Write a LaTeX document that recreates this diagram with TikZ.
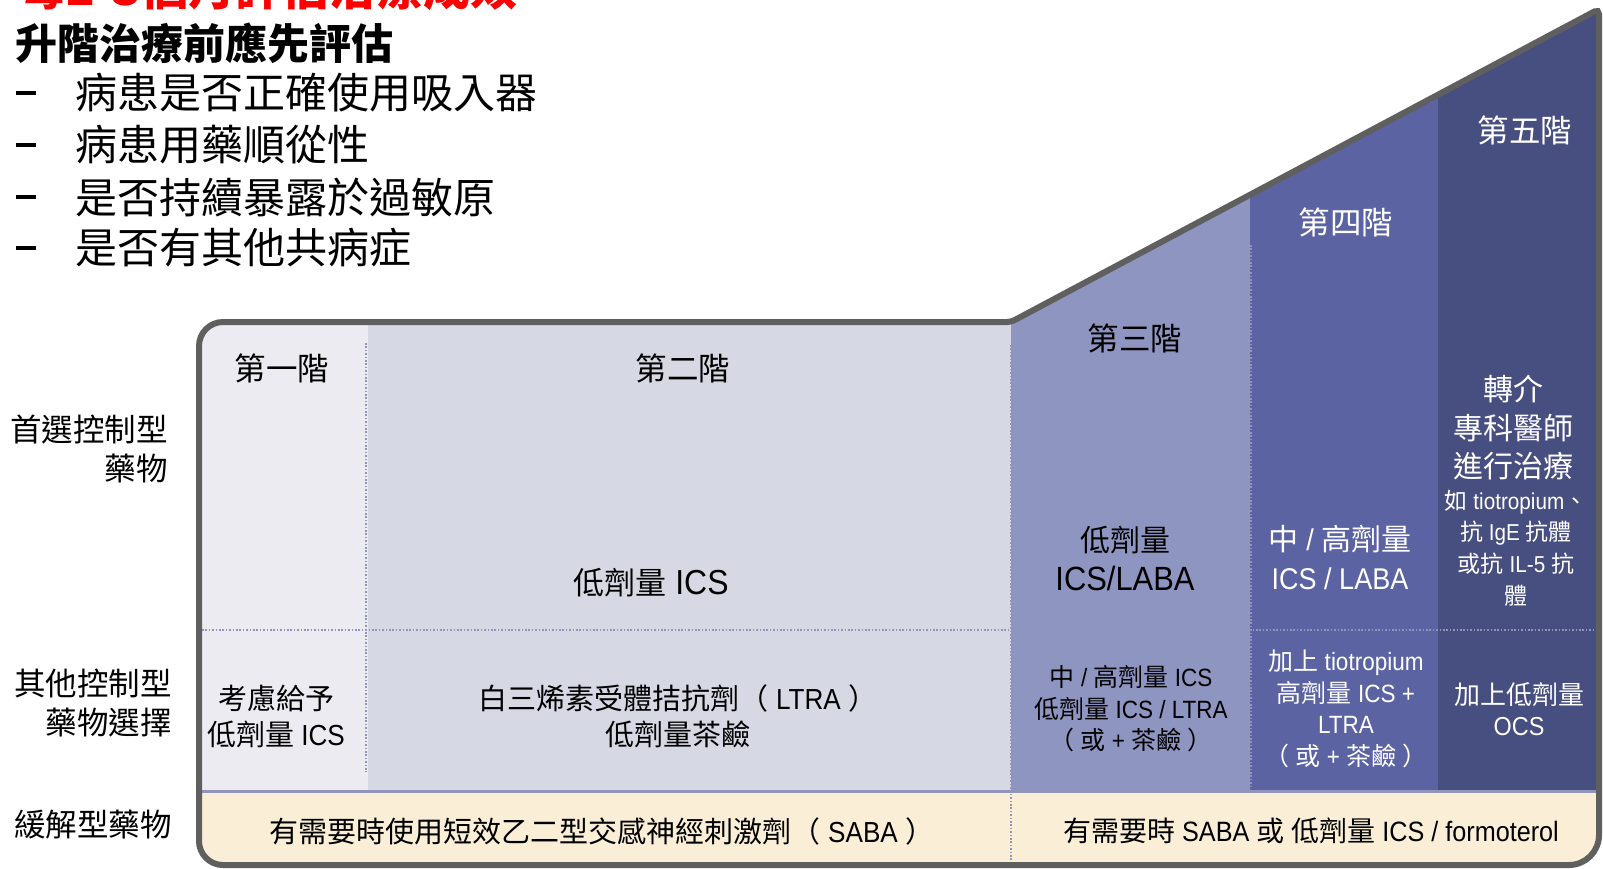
\documentclass[tikz,border=0pt]{standalone}
\usepackage{fontspec}
\setmainfont{Noto Sans CJK TC}
\newfontfamily\latfont{Liberation Sans}[FakeStretch=0.9]
\newfontfamily\biglatfont{Liberation Sans}[FakeStretch=0.92, Scale=1.12]
\newcommand\lat[1]{{\latfont #1}}
\newcommand\biglat[1]{{\biglatfont #1}}
\definecolor{lvlone}{HTML}{EBEBF1}
\definecolor{lvltwo}{HTML}{D6D8E4}
\definecolor{lvlthree}{HTML}{8F95C1}
\definecolor{lvlfour}{HTML}{5B63A3}
\definecolor{lvlfive}{HTML}{474E80}
\definecolor{reliever}{HTML}{FAEFD6}
\definecolor{framegray}{HTML}{5F5F5F}
\definecolor{divider}{HTML}{9195BA}

\begin{document}
\begin{tikzpicture}[x=1pt, y=-1pt,
    every node/.style = {align=center, inner sep=0pt},
    lvlhead/.style = {font=\fontsize{31.5}{38}\selectfont},
    firstline/.style = {font=\fontsize{30}{39}\selectfont},
    otherline/.style = {font=\fontsize{29}{36}\selectfont},
    narrowline/.style = {font=\fontsize{25}{31.6}\selectfont},
    noteline/.style = {font=\fontsize{23}{31.7}\selectfont},
    rowlabel/.style = {font=\fontsize{31.5}{39}\selectfont, anchor=east, align=right},
    checkline/.style = {font=\fontsize{42}{50}\selectfont, anchor=west},
    onblue/.style = {text=white},
    dots/.style = {divider, line width=1.6pt, dash pattern=on 1.6pt off 1.8pt}]
  \useasboundingbox (0,0) rectangle (1603,868);
  \fill[white] (0,0) rectangle (1603,868);

  \begin{scope}
    \clip (199,600) [rounded corners=24pt]-- (199,322) [rounded corners=4pt]-- (1011,322)
      [rounded corners=5pt]-- (1599,9) [rounded corners=30pt]-- (1599,865)
      [rounded corners=24pt]-- (199,865) -- cycle;
    \fill[lvlone] (199,0) rectangle (368,791);
    \fill[lvltwo] (368,0) rectangle (1011,791);
    \fill[lvlthree] (1011,0) rectangle (1250,791);
    \fill[lvlfour] (1250,0) rectangle (1438,791);
    \fill[lvlfive] (1438,0) rectangle (1603,791);
    \fill[reliever] (0,791) rectangle (1603,868);
  \end{scope}

  \draw[dots] (366,343) -- (366,772);
  \draw[dots] (202,630) -- (1597,630);
  \draw[dots] (1011,345) -- (1011,862);
  \draw[dots] (1251,245) -- (1251,789);
  \draw[divider, line width=3pt] (199,791) -- (1599,791);
  \draw[framegray, line width=6pt] (199,600) [rounded corners=24pt]-- (199,322)
    [rounded corners=4pt]-- (1011,322) [rounded corners=5pt]-- (1599,9)
    [rounded corners=30pt]-- (1599,865) [rounded corners=24pt]-- (199,865) -- cycle;

  \node[checkline, text=red, font=\fontsize{47}{54}\selectfont\bfseries] (title) at (19,-12) {每2-3個月評估治療成效};
  \node[checkline, font=\fontsize{42}{50}\selectfont\bfseries] (heading) at (15,43) {升階治療前應先評估};
  \node (d1) at (26,93) {\rule{20pt}{4pt}};
  \node[checkline] (b1) at (75,93) {病患是否正確使用吸入器};
  \node (d2) at (26,145) {\rule{20pt}{4pt}};
  \node[checkline] (b2) at (75,145) {病患用藥順從性};
  \node (d3) at (26,197) {\rule{20pt}{4pt}};
  \node[checkline] (b3) at (75,197) {是否持續暴露於過敏原};
  \node (d4) at (26,248) {\rule{20pt}{4pt}};
  \node[checkline] (b4) at (75,248) {是否有其他共病症};

  \node[rowlabel] (lp) at (168,449) {首選控制型\\藥物};
  \node[rowlabel] (lo) at (172,703) {其他控制型\\藥物選擇};
  \node[rowlabel] (lr) at (172,825) {緩解型藥物};

  \node[lvlhead] (s1) at (282,368) {第一階};
  \node[lvlhead] (s2) at (683,368) {第二階};
  \node[lvlhead] (s3) at (1135,338) {第三階};
  \node[lvlhead, onblue] (s4) at (1346,222) {第四階};
  \node[lvlhead, onblue] (s5) at (1525,130) {第五階};

  \node[firstline, font=\fontsize{31}{39}\selectfont] (p2) at (651,583) {低劑量\biglat{ ICS}};
  \node[firstline] (p3) at (1125,558) {低劑量\\\biglat{ICS/LABA}};
  \node[firstline, onblue] (p4) at (1340,557) {中\lat{ / }高劑量\\\lat{ICS / LABA}};
  \node[firstline, font=\fontsize{30}{38.5}\selectfont, onblue] (p5a) at (1513,428) {轉介\\專科醫師\\進行治療};
  \node[noteline, onblue] (p5b) at (1516,548) {如\lat{ tiotropium}、\\抗\lat{ IgE }抗體\\或抗\lat{ IL-5 }抗\\體};

  \node[otherline] (o1) at (276,716) {考慮給予\\低劑量\lat{ ICS}};
  \node[otherline] (o2) at (678,716) {白三烯素受體拮抗劑（\lat{ LTRA }）\\低劑量茶鹼};
  \node[narrowline] (o3) at (1131,709) {中\lat{ / }高劑量\lat{ ICS}\\低劑量\lat{ ICS / LTRA}\\（\lat{ }或\lat{ + }茶鹼\lat{ }）};
  \node[narrowline, onblue] (o4) at (1346,709) {加上\lat{ tiotropium}\\高劑量\lat{ ICS +}\\\lat{LTRA}\\（\lat{ }或\lat{ + }茶鹼\lat{ }）};
  \node[narrowline, font=\fontsize{26}{31.6}\selectfont, onblue] (o5) at (1519,709) {加上低劑量\\\lat{OCS}};

  \node[otherline] (r1) at (602,831) {有需要時使用短效乙二型交感神經刺激劑（\lat{ SABA }）};
  \node[otherline, font=\fontsize{28}{36}\selectfont] (r2) at (1311,831) {有需要時\lat{ SABA }或\lat{ }低劑量\lat{ ICS / formoterol}};
\end{tikzpicture}
\end{document}
